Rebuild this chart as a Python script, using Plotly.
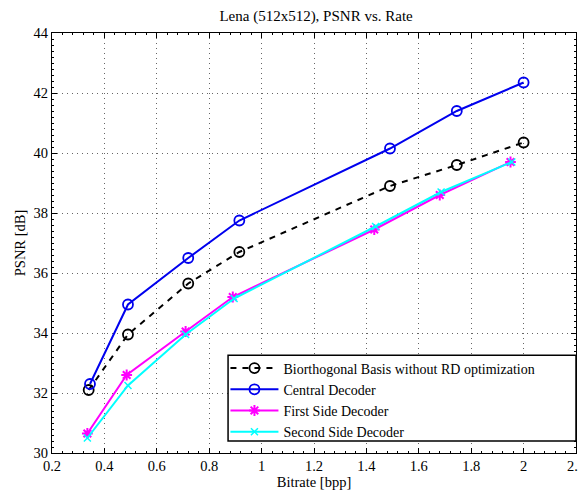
import plotly.graph_objects as go

bio_x = [0.34, 0.49, 0.72, 0.915, 1.49, 1.745, 2.0]
bio_y = [32.1, 33.95, 35.65, 36.7, 38.9, 39.6, 40.35]
cen_x = [0.345, 0.49, 0.72, 0.915, 1.49, 1.745, 2.0]
cen_y = [32.3, 34.95, 36.5, 37.75, 40.15, 41.4, 42.35]
fs_x = [0.335, 0.485, 0.71, 0.89, 1.43, 1.68, 1.95]
fs_y = [30.65, 32.6, 34.05, 35.2, 37.45, 38.6, 39.7]
ss_x = [0.335, 0.49, 0.71, 0.895, 1.435, 1.685, 1.955]
ss_y = [30.5, 32.25, 33.95, 35.15, 37.55, 38.7, 39.7]

x_ticks = [0.2, 0.4, 0.6, 0.8, 1, 1.2, 1.4, 1.6, 1.8, 2, 2.2]
y_ticks = [30, 32, 34, 36, 38, 40, 42, 44]

font = "Liberation Serif, Times New Roman, serif"

fig = go.Figure()
fig.add_trace(go.Scatter(x=bio_x, y=bio_y, mode="lines+markers",
    name="Biorthogonal Basis without RD optimization",
    line=dict(color="black", width=2, dash="6px,6px"),
    marker=dict(symbol="circle-open", size=10, color="black", line=dict(width=1.8))))
fig.add_trace(go.Scatter(x=cen_x, y=cen_y, mode="lines+markers",
    name="Central Decoder",
    line=dict(color="#0000ee", width=2),
    marker=dict(symbol="circle-open", size=10, color="#0000ee", line=dict(width=1.8))))
fig.add_trace(go.Scatter(x=fs_x, y=fs_y, mode="lines+markers",
    name="First Side Decoder",
    line=dict(color="#ff00ff", width=2),
    marker=dict(symbol="asterisk-open", size=9, color="#ff00ff", line=dict(width=2, color="#ff00ff"))))
fig.add_trace(go.Scatter(x=ss_x, y=ss_y, mode="lines+markers",
    name="Second Side Decoder",
    line=dict(color="#00ffff", width=2),
    marker=dict(symbol="x-thin-open", size=7, color="#00ffff", line=dict(width=1.5, color="#00ffff"))))

axis_common = dict(showline=True, linecolor="black", linewidth=1, mirror="ticks",
                   ticks="inside", ticklen=5, tickcolor="black", automargin=False,
                   showgrid=True, gridcolor="#666666", griddash="1px,4px", gridwidth=1,
                   zeroline=False, tickfont=dict(size=14.5, color="black", family=font))

fig.update_layout(
    width=578, height=483,
    margin=dict(l=44, r=10, t=25, b=38),
    paper_bgcolor="white", plot_bgcolor="white",
    font=dict(family=font, color="black", size=14.5),
    title=dict(text="Lena (512x512), PSNR vs. Rate", x=0.533, xanchor="center",
               y=0.994, yanchor="top", font=dict(size=15, family=font)),
    xaxis=dict(range=[0.2, 2.2], tickvals=x_ticks,
               ticktext=[("%g" % v) for v in x_ticks],
               minor=dict(dtick=0.04, ticks="inside", ticklen=2, tickcolor="black", showgrid=False),
               title=dict(text="Bitrate [bpp]", standoff=0, font=dict(size=14.5)), **axis_common),
    yaxis=dict(range=[30, 44], tickvals=y_ticks,
               minor=dict(dtick=0.2, ticks="inside", ticklen=2, tickcolor="black", showgrid=False),
               title=dict(text="PSNR [dB]", standoff=4, font=dict(size=14.5)), **axis_common),
    shapes=[dict(type="rect", xref="paper", yref="paper", x0=0.336, x1=1.0,
                 y0=0.0286, y1=0.233, line=dict(color="black", width=1.5),
                 fillcolor="white", layer="above")],
    legend=dict(x=0.331, y=0.2393, xanchor="left", yanchor="top",
                bgcolor="rgba(0,0,0,0)", borderwidth=0,
                font=dict(size=14, family=font), tracegroupgap=0, itemwidth=48),
    showlegend=True,
)

fig.write_html("out.html")
